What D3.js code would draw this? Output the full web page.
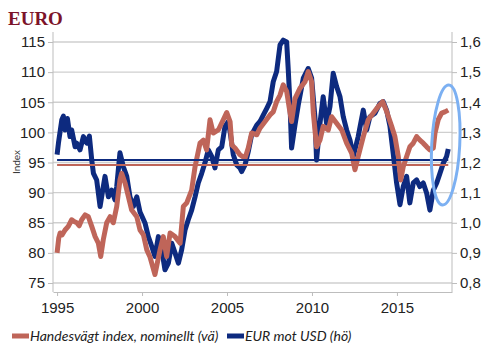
<!DOCTYPE html>
<html>
<head>
<meta charset="utf-8">
<script src="https://cdn.jsdelivr.net/npm/d3@7"></script>
<style>
  body { margin: 0; background: #fff; }
  svg { display: block; font-family: Lato, "Open Sans", sans-serif; }
  .axis path, .axis line { stroke: #bdbdbd; }
  .axis text { fill: #222; font-size: 15px; }
</style>
</head>
<body>
<svg id="chart" width="488" height="358"></svg>
<script>
// Handelsvägt index, nominellt (left axis) - [year, index]
const tradeIndex = [
  [1995.0, 80.0], [1995.1, 82.5], [1995.18, 83.3], [1995.3, 83.0], [1995.47, 83.8],
  [1995.66, 84.4], [1995.86, 85.5], [1996.0, 85.2], [1996.16, 85.0], [1996.3, 84.5],
  [1996.45, 85.5], [1996.65, 86.3], [1996.84, 86.0], [1997.04, 84.4], [1997.24, 82.7],
  [1997.43, 81.6], [1997.57, 79.4], [1997.72, 82.2], [1997.92, 85.0], [1998.12, 86.0],
  [1998.31, 85.0], [1998.51, 87.7], [1998.7, 92.1], [1998.8, 93.2], [1999.0, 91.6],
  [1999.2, 89.3], [1999.39, 87.1], [1999.69, 86.0], [1999.88, 83.8], [2000.08, 83.0],
  [2000.28, 80.5], [2000.47, 79.3], [2000.76, 76.4], [2001.06, 80.5], [2001.25, 82.7],
  [2001.45, 79.4], [2001.65, 83.3], [2001.94, 82.7], [2002.24, 81.6], [2002.43, 87.7],
  [2002.63, 88.3], [2002.92, 90.4], [2003.12, 94.3], [2003.41, 98.2], [2003.61, 98.7],
  [2003.8, 97.1], [2004.0, 102.1], [2004.19, 99.9], [2004.49, 100.4], [2004.78, 102.1],
  [2004.98, 103.3], [2005.18, 101.8], [2005.28, 97.9], [2005.47, 97.4], [2005.76, 96.3],
  [2006.06, 95.7], [2006.25, 97.4], [2006.45, 99.9], [2006.75, 99.6], [2006.94, 100.7],
  [2007.24, 101.8], [2007.53, 102.9], [2007.72, 103.4], [2007.92, 105.1], [2008.12, 106.2],
  [2008.31, 107.9], [2008.51, 106.8], [2008.7, 103.4], [2008.8, 101.8], [2009.0, 105.6],
  [2009.29, 107.3], [2009.59, 108.4], [2009.78, 110.1], [2009.98, 108.4], [2010.08, 103.2],
  [2010.27, 97.6], [2010.47, 98.7], [2010.66, 101.0], [2010.96, 100.4], [2011.16, 102.6],
  [2011.45, 101.5], [2011.75, 100.4], [2012.04, 98.2], [2012.34, 96.5], [2012.53, 93.8],
  [2012.72, 96.0], [2013.02, 99.3], [2013.31, 102.1], [2013.61, 103.2], [2013.9, 104.3],
  [2014.16, 105.1], [2014.39, 103.5], [2014.69, 101.0], [2014.88, 99.3], [2015.08, 96.0],
  [2015.22, 92.1], [2015.37, 94.3], [2015.57, 96.0], [2015.76, 97.6], [2015.96, 98.2],
  [2016.16, 99.3], [2016.35, 98.7], [2016.55, 98.2], [2016.75, 97.6], [2016.94, 97.1],
  [2017.14, 97.4], [2017.24, 99.9], [2017.43, 102.1], [2017.63, 103.2], [2017.82, 103.4],
  [2018.02, 103.7]
];

// EUR mot USD (right axis) - [year, rate]
const eurUsd = [
  [1995.0, 1.226], [1995.08, 1.264], [1995.28, 1.342], [1995.37, 1.354], [1995.47, 1.308],
  [1995.61, 1.346], [1995.76, 1.286], [1995.86, 1.308], [1996.06, 1.252], [1996.16, 1.264],
  [1996.35, 1.242], [1996.55, 1.286], [1996.75, 1.264], [1996.9, 1.288], [1997.04, 1.208],
  [1997.14, 1.164], [1997.33, 1.142], [1997.53, 1.054], [1997.72, 1.12], [1997.82, 1.154],
  [1998.02, 1.086], [1998.22, 1.108], [1998.41, 1.076], [1998.51, 1.12], [1998.7, 1.232],
  [1998.9, 1.186], [1999.1, 1.154], [1999.29, 1.086], [1999.49, 1.054], [1999.69, 1.086],
  [1999.88, 1.036], [2000.18, 0.998], [2000.37, 0.954], [2000.57, 0.922], [2000.76, 0.888],
  [2000.96, 0.954], [2001.16, 0.91], [2001.35, 0.844], [2001.55, 0.866], [2001.75, 0.932],
  [2001.94, 0.9], [2002.14, 0.866], [2002.33, 0.91], [2002.53, 0.976], [2002.72, 1.01],
  [2002.92, 1.042], [2003.12, 1.086], [2003.31, 1.132], [2003.51, 1.164], [2003.7, 1.198],
  [2003.9, 1.242], [2004.1, 1.22], [2004.29, 1.182], [2004.49, 1.242], [2004.69, 1.252],
  [2004.88, 1.32], [2005.08, 1.336], [2005.18, 1.302], [2005.37, 1.226], [2005.57, 1.192],
  [2005.76, 1.182], [2005.86, 1.17], [2006.06, 1.192], [2006.25, 1.236], [2006.45, 1.292],
  [2006.75, 1.324], [2006.94, 1.336], [2007.14, 1.358], [2007.34, 1.38], [2007.53, 1.402],
  [2007.72, 1.468], [2007.92, 1.502], [2008.12, 1.59], [2008.31, 1.606], [2008.51, 1.6],
  [2008.6, 1.512], [2008.7, 1.402], [2008.8, 1.248], [2009.0, 1.324], [2009.19, 1.39],
  [2009.49, 1.48], [2009.78, 1.512], [2009.98, 1.48], [2010.18, 1.346], [2010.27, 1.208],
  [2010.47, 1.33], [2010.66, 1.418], [2010.86, 1.33], [2011.06, 1.386], [2011.25, 1.496],
  [2011.45, 1.452], [2011.65, 1.418], [2011.84, 1.352], [2012.04, 1.308], [2012.24, 1.274],
  [2012.43, 1.22], [2012.72, 1.286], [2013.02, 1.374], [2013.22, 1.308], [2013.41, 1.352],
  [2013.71, 1.364], [2014.0, 1.396], [2014.19, 1.402], [2014.39, 1.374], [2014.59, 1.32],
  [2014.78, 1.23], [2014.98, 1.132], [2015.18, 1.06], [2015.37, 1.12], [2015.57, 1.154],
  [2015.76, 1.066], [2015.96, 1.132], [2016.16, 1.142], [2016.35, 1.12], [2016.55, 1.132],
  [2016.75, 1.098], [2016.94, 1.042], [2017.14, 1.108], [2017.34, 1.132], [2017.53, 1.164],
  [2017.73, 1.198], [2017.92, 1.22], [2018.02, 1.245]
];

// long-run averages drawn as flat lines
const meanIndex = 94.6;
const meanEur = 1.208;

const xTicks = [1995, 2000, 2005, 2010, 2015];
const leftTicks = [75, 80, 85, 90, 95, 100, 105, 110, 115];
const rightTicks = [0.8, 0.9, 1.0, 1.1, 1.2, 1.3, 1.4, 1.5, 1.6];

const red = "#bf6559", blue = "#0d2a7f";

const svg = d3.select("#chart");
const plotLeft = 53, plotRight = 452, plotTop = 32, plotBottom = 292;

const x = d3.scaleLinear().domain([1994.76, 2018.24]).range([plotLeft, plotRight]);
const yL = d3.scaleLinear().domain([75, 115]).range([283, 42]);
const yR = d3.scaleLinear().domain([0.8, 1.6]).range([283, 42]);

// title
svg.append("text").attr("x", 8).attr("y", 25)
  .style("font-family", "'Liberation Serif', 'DejaVu Serif', serif")
  .style("font-weight", "bold").style("font-size", "19px")
  .attr("fill", "#7c1329").text("EURO");

// gridlines
svg.append("g").selectAll("line").data(leftTicks).join("line")
  .attr("x1", plotLeft).attr("x2", plotRight)
  .attr("y1", d => yL(d)).attr("y2", d => yL(d))
  .attr("stroke", "#cfcfcf").attr("stroke-width", 1.3);

// axes
const gL = svg.append("g").attr("class", "axis").attr("transform", `translate(${plotLeft},0)`)
  .call(d3.axisLeft(yL).tickValues(leftTicks).tickSize(5).tickSizeOuter(0).tickPadding(3));
gL.select(".domain").remove();
svg.append("line").attr("x1", plotLeft).attr("x2", plotLeft).attr("y1", plotTop).attr("y2", plotBottom)
  .attr("stroke", "#bdbdbd");

const gR = svg.append("g").attr("class", "axis").attr("transform", `translate(${plotRight},0)`)
  .call(d3.axisRight(yR).tickValues(rightTicks).tickSize(5).tickPadding(3)
    .tickFormat(d => d.toFixed(1).replace(".", ",")));
gR.select(".domain").remove();
svg.append("line").attr("x1", plotRight).attr("x2", plotRight).attr("y1", plotTop).attr("y2", plotBottom)
  .attr("stroke", "#bdbdbd");

const gB = svg.append("g").attr("class", "axis").attr("transform", `translate(0,${plotBottom})`)
  .call(d3.axisBottom(x).tickValues(xTicks).tickSize(4).tickSizeOuter(0).tickPadding(6)
    .tickFormat(d3.format("d")));

// y axis title
svg.append("text").attr("transform", "translate(19.5,162) rotate(-90)")
  .attr("text-anchor", "middle").style("font-size", "10px").attr("fill", "#333")
  .text("Index");

// series
const lineL = d3.line().x(d => x(d[0])).y(d => yL(d[1]));
const lineR = d3.line().x(d => x(d[0])).y(d => yR(d[1]));

svg.append("path").datum(eurUsd).attr("d", lineR)
  .attr("fill", "none").attr("stroke", blue).attr("stroke-width", 5)
  .attr("stroke-linejoin", "round");
svg.append("path").datum(tradeIndex).attr("d", lineL)
  .attr("fill", "none").attr("stroke", red).attr("stroke-width", 5)
  .attr("stroke-linejoin", "round");

// average lines
const x0 = tradeIndex[0][0], x1 = tradeIndex[tradeIndex.length - 1][0];
svg.append("line").attr("x1", x(x0)).attr("x2", x(x1))
  .attr("y1", yR(meanEur)).attr("y2", yR(meanEur))
  .attr("stroke", blue).attr("stroke-width", 2);
svg.append("line").attr("x1", x(x0)).attr("x2", x(x1))
  .attr("y1", yL(meanIndex)).attr("y2", yL(meanIndex))
  .attr("stroke", red).attr("stroke-width", 2);

// highlight ellipse around latest development
svg.append("ellipse").attr("cx", 0).attr("cy", 0).attr("rx", 14).attr("ry", 60)
  .attr("transform", `translate(${x(2017.87)},${yL(97.9)}) rotate(3)`)
  .attr("fill", "none").attr("stroke", "#7cb0f2").attr("stroke-width", 3);

// legend
const legend = [
  { label: "Handesvägt index, nominellt (vä)", color: red, x: 12 },
  { label: "EUR mot USD (hö)", color: blue, x: 227 }
];
const lg = svg.append("g").selectAll("g").data(legend).join("g")
  .attr("transform", d => `translate(${d.x},336)`);
lg.append("line").attr("x1", 0).attr("x2", 17).attr("stroke", d => d.color).attr("stroke-width", 5);
lg.append("text").attr("x", 18).attr("y", 5)
  .style("font-size", "14px").style("font-style", "italic").attr("fill", "#222")
  .text(d => d.label);
</script>
</body>
</html>
